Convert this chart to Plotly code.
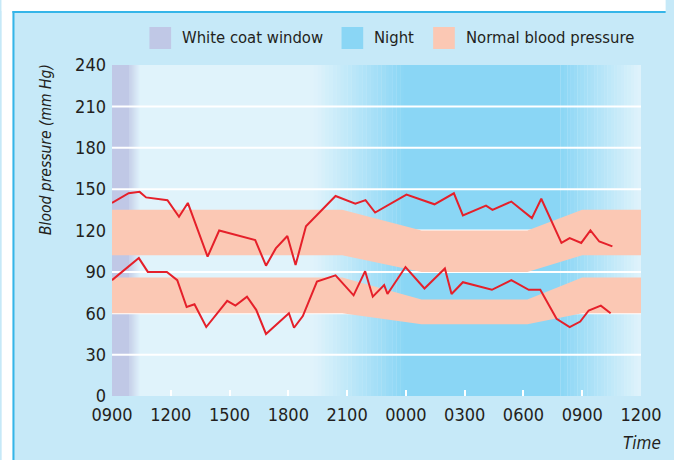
import plotly.graph_objects as go

# ---------------- data ----------------
sys_hours = [0.0, 0.85, 1.41, 1.74, 2.83, 3.42, 3.87, 4.88, 5.47, 7.31, 7.86, 8.36, 8.95, 9.37, 9.90,
             11.41, 12.42, 12.94, 13.43, 15.03, 16.46, 17.45, 17.91, 19.09, 19.42, 20.38, 21.43,
             21.91, 22.94, 23.36, 23.95, 24.42, 24.87, 25.54]
sys_bp = [140, 147, 148, 144, 142, 130, 140, 101, 120, 113, 94.5, 107, 116, 95, 123,
          145, 139.5, 142, 133, 146, 139, 147, 131, 138, 135, 141, 129,
          143, 111, 114.5, 111, 120, 112, 108.5]

dia_hours = [0.0, 1.37, 1.83, 2.80, 3.33, 3.81, 4.21, 4.81, 5.88, 6.30, 6.89, 7.36, 7.86, 9.03, 9.29,
             9.74, 10.46, 11.41, 12.33, 12.92, 13.31, 13.89, 14.06, 14.98, 15.95, 16.99, 17.33,
             17.91, 19.39, 20.38, 21.27, 21.86, 22.69, 23.36, 23.90, 24.33, 24.95, 25.45]
dia_bp = [84, 100, 90, 90, 84, 64.5, 66.5, 50, 69, 65.5, 72, 62.5, 45, 60, 49.5,
          58, 83, 87.5, 73, 90.5, 72, 80.5, 74, 93.5, 78, 92.5, 74,
          82.5, 77, 84, 77, 77, 56, 50, 54, 62, 65.5, 60]

band_hours = [0, 11.75, 15.8, 21.2, 24.0, 27]
sys_norm_hi = [135, 135, 120, 120, 135, 135]
sys_norm_lo = [102, 102, 90, 90, 102, 102]
dia_norm_hi = [86, 86, 70, 70, 86, 86]
dia_norm_lo = [60, 60, 52, 52, 60, 60]

tick_hours = [0, 3, 6, 9, 12, 15, 18, 21, 24, 27]
tick_labels = ["0900", "1200", "1500", "1800", "2100", "0000", "0300", "0600", "0900", "1200"]
y_ticks = [0, 30, 60, 90, 120, 150, 180, 210, 240]
grid_levels = [30, 60, 90, 120, 150, 180, 210]

legend_labels = ["White coat window", "Night", "Normal blood pressure"]

# ---------------- style ----------------
PANEL = "#c6e9f8"
PLOT_BG = "#e0f3fb"
LAVENDER = "#c0c8e6"
NIGHT = "#8ad6f5"
SALMON = "#fbc8b4"
RED = "#e5202a"
BORDER = "#35b5e8"
TEXT = "#231f20"
FONT = "Liberation Sans Narrow, DejaVu Sans Condensed, Arial Narrow, sans-serif"

W, H = 674, 460
ML, MR, MT, MB = 112, 25, 65, 64
PW, PH = W - ML - MR, H - MT - MB


def px(x):
    return (x - ML) / PW


def py(y):
    return (H - MB - y) / PH


def hex2rgb(h):
    h = h.lstrip("#")
    return tuple(int(h[i:i + 2], 16) for i in (0, 2, 4))


def mix(c1, c2, t):
    a, b = hex2rgb(c1), hex2rgb(c2)
    return "rgb(%d,%d,%d)" % tuple(round(a[i] + (b[i] - a[i]) * t) for i in range(3))


shapes = []


def band_rect(x0, x1, color):
    shapes.append(dict(type="rect", xref="x", yref="paper", x0=x0, x1=x1, y0=0, y1=1,
                       fillcolor=color, line=dict(width=0), layer="below"))


def gradient(x0, x1, c_from, c_to, n=24):
    step = (x1 - x0) / n
    for i in range(n):
        t = (i + 0.5) / n
        band_rect(x0 + i * step, x0 + (i + 1) * step + step * 0.05, mix(c_from, c_to, t))


# white coat window
band_rect(0, 0.9, LAVENDER)
gradient(0.9, 1.42, LAVENDER, PLOT_BG, n=10)
# night
gradient(10.3, 14.9, PLOT_BG, NIGHT)
band_rect(14.9, 22.9, NIGHT)
gradient(22.9, 27, NIGHT, PLOT_BG)

# horizontal white grid lines (drawn above the background shading, below the bands)
for g in grid_levels:
    shapes.append(dict(type="line", xref="paper", yref="y", x0=0, x1=1, y0=g, y1=g,
                       line=dict(color="white", width=2), layer="below"))

# white margins and blue border of the panel (top and left only)
shapes.append(dict(type="rect", xref="paper", yref="paper", x0=px(0), x1=px(W), y0=py(11), y1=py(0),
                   fillcolor="white", line=dict(width=0), layer="below"))
shapes.append(dict(type="rect", xref="paper", yref="paper", x0=px(0), x1=px(11), y0=py(H), y1=py(0),
                   fillcolor="white", line=dict(width=0), layer="below"))
shapes.append(dict(type="line", xref="paper", yref="paper", x0=px(11), x1=px(W), y0=py(12), y1=py(12),
                   line=dict(color=BORDER, width=2), layer="below"))
shapes.append(dict(type="line", xref="paper", yref="paper", x0=px(12), x1=px(12), y0=py(11), y1=py(H),
                   line=dict(color=BORDER, width=2), layer="below"))

# manual legend
annotations = []
leg_x = [150, 345, 438]
leg_cols = [LAVENDER, NIGHT, SALMON]
for x0, col, lab in zip(leg_x, leg_cols, legend_labels):
    shapes.append(dict(type="rect", xref="paper", yref="paper", x0=px(x0), x1=px(x0 + 22),
                       y0=py(49), y1=py(27), fillcolor=col, line=dict(width=0)))
    annotations.append(dict(xref="paper", yref="paper", x=px(x0 + 31), y=py(38), text=lab,
                            showarrow=False, xanchor="left", yanchor="middle",
                            font=dict(size=16.5, color=TEXT, family=FONT)))

annotations.append(dict(xref="paper", yref="paper", x=px(45), y=py(149), text="Blood pressure (mm Hg)",
                        textangle=-90, showarrow=False, xanchor="center", yanchor="middle",
                        font=dict(size=15.5, color=TEXT, family=FONT, style="italic")))
annotations.append(dict(xref="paper", yref="paper", x=px(650), y=py(443), text="Time",
                        showarrow=False, xanchor="center", yanchor="middle",
                        font=dict(size=17, color=TEXT, family=FONT, style="italic")))

fig = go.Figure()


def add_band(lo, hi, name):
    fig.add_trace(go.Scatter(x=band_hours, y=lo, mode="lines", line=dict(width=0, color=SALMON),
                             showlegend=False, hoverinfo="skip"))
    fig.add_trace(go.Scatter(x=band_hours, y=hi, mode="lines", line=dict(width=0, color=SALMON),
                             fill="tonexty", fillcolor=SALMON, name=name, showlegend=False))


add_band(sys_norm_lo, sys_norm_hi, "Normal systolic")
add_band(dia_norm_lo, dia_norm_hi, "Normal diastolic")

fig.add_trace(go.Scatter(x=sys_hours, y=sys_bp, mode="lines", line=dict(color=RED, width=2),
                         name="Systolic", showlegend=False))
fig.add_trace(go.Scatter(x=dia_hours, y=dia_bp, mode="lines", line=dict(color=RED, width=2),
                         name="Diastolic", showlegend=False))

fig.update_layout(
    width=W, height=H,
    margin=dict(l=ML, r=MR, t=MT, b=MB),
    paper_bgcolor=PANEL, plot_bgcolor=PLOT_BG,
    shapes=shapes, annotations=annotations,
    showlegend=False,
    font=dict(family=FONT, size=18, color=TEXT),
    xaxis=dict(range=[0, 27], tickvals=tick_hours, ticktext=tick_labels, showgrid=False,
               zeroline=False, ticks="inside", tickcolor="white", ticklen=6, tickwidth=2,
               ticklabelstandoff=6,
               tickfont=dict(size=18, color=TEXT, family=FONT), showline=False, fixedrange=True),
    yaxis=dict(range=[0, 240], tickvals=y_ticks, showgrid=False,
               zeroline=False, ticks="", showline=False, ticklabelstandoff=5,
               tickfont=dict(size=18, color=TEXT, family=FONT), fixedrange=True),
)

fig.write_html("out.html", config={"displayModeBar": False},
               post_script="document.documentElement.style.overflow='hidden';"
                           "document.body.style.margin='0';document.body.style.overflow='hidden';")
